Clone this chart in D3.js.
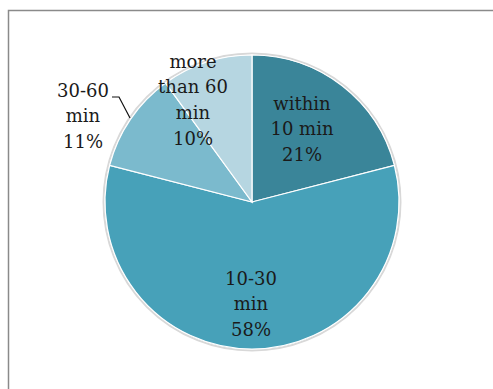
<!DOCTYPE html>
<html><head><meta charset="utf-8">
<script src="https://cdn.jsdelivr.net/npm/d3@7"></script>
<style>html,body{margin:0;padding:0;background:#fff;}</style>
</head><body>
<svg id="c" width="493" height="389"></svg>
<script>
const categories = ["within 10 min", "10-30 min", "30-60 min", "more than 60 min"];
const values = [21, 58, 11, 10];
const colors = ["#3a8599", "#47a1b9", "#7bbacd", "#b6d6e1"];
const labelLines = [["within", "10 min", "21%"], ["10-30", "min", "58%"], ["30-60", "min", "11%"], ["more", "than 60", "min", "10%"]];

const svg = d3.select("#c");
// frame
svg.append("path").attr("d", "M8.5,389 V10.5 H493").attr("fill", "none").attr("stroke", "#8a8a8a").attr("stroke-width", 1.5);

const cx = 252, cy = 202, r = 147;
const g = svg.append("g").attr("transform", `translate(${cx},${cy})`);
const pie = d3.pie().sort(null).value(d => d)(values);
const arc = d3.arc().innerRadius(0).outerRadius(r);

g.append("circle").attr("r", r + 1.5).attr("fill", "none").attr("stroke", "#d8d8d8").attr("stroke-width", 2);
g.selectAll("path.s").data(pie).join("path").attr("class", "s")
  .attr("d", arc).attr("fill", (d, i) => colors[i]).attr("stroke", "#fff").attr("stroke-width", 1.2);

// clip for labels (plot area top)
svg.append("clipPath").attr("id", "clipTop").append("rect").attr("x", 0).attr("y", 57).attr("width", 493).attr("height", 332);

const labelPos = [[302, 103], [251, 278], [83, 90], [193, 61]];
const lh = 25.8;
const lg = svg.append("g").attr("clip-path", "url(#clipTop)")
  .style("font-family", "'DejaVu Serif', 'Liberation Serif', serif").style("font-size", "18px").attr("fill", "#1a1a1a");
labelLines.forEach((lines, i) => {
  const t = lg.append("text").attr("text-anchor", "middle");
  lines.forEach((s, j) => {
    t.append("tspan").attr("x", labelPos[i][0]).attr("y", labelPos[i][1] + j * lh + 6.5).text(s);
  });
});
// leader line for 30-60 min
svg.append("path").attr("d", "M112,97 H119 L130,118").attr("fill", "none").attr("stroke", "#111").attr("stroke-width", 1.2);
</script>
</body></html>
